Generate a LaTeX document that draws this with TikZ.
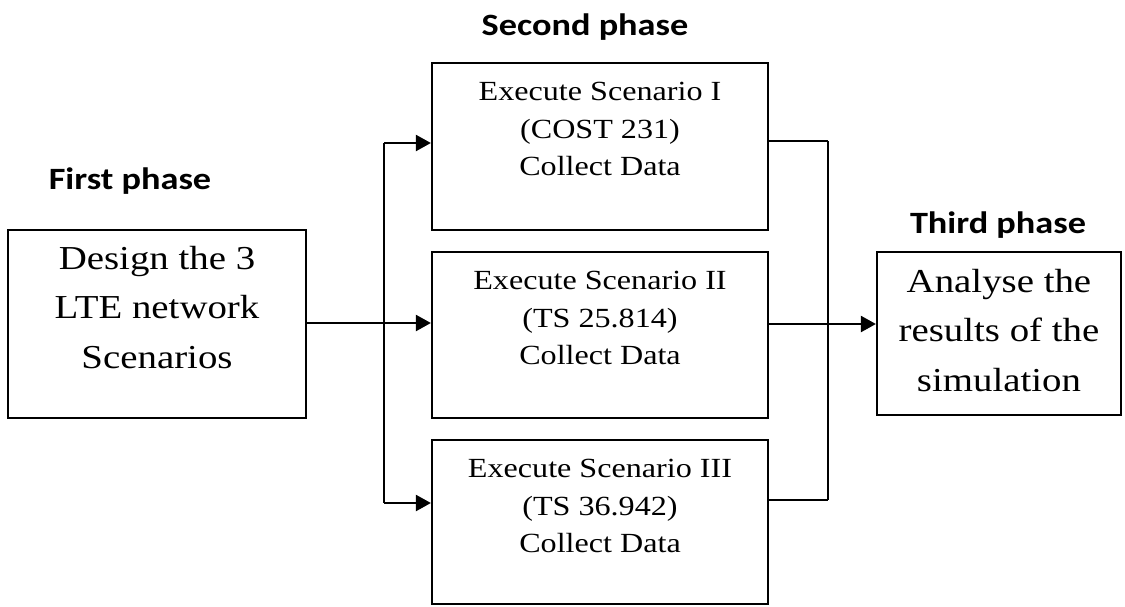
\documentclass[tikz,border=0pt]{standalone}
\usepackage{fontspec}
\usetikzlibrary{arrows.meta}
\newfontfamily\boxfont[FakeStretch=1.16]{Liberation Serif}
\newfontfamily\phasefont[FakeStretch=1.17]{Carlito}
\tikzset{
  stage/.style={draw, line width=2.2pt, inner sep=0pt},
  bigtext/.style={anchor=north, align=center, inner sep=0pt,
    font=\boxfont\fontsize{33.5}{49.5}\selectfont},
  smalltext/.style={anchor=north, align=center, inner sep=0pt,
    font=\boxfont\fontsize{27.7}{37.5}\selectfont},
  phase/.style={anchor=base, inner sep=0pt,
    font=\phasefont\bfseries\fontsize{31}{36}\selectfont},
  link/.style={line width=2.2pt},
  thinlink/.style={line width=1.6pt},
  flow/.style={line width=2.2pt, -{Triangle[length=15pt,width=16pt]}}
}
\begin{document}
\begin{tikzpicture}[x=1pt,y=-1pt]
\useasboundingbox (0,0) rectangle (1125,606);

% phase headings
\node[phase] (p1) at (130,189) {First phase};
\node[phase] (p2) at (585,35) {Second phase};
\node[phase] (p3) at (998,233) {Third phase};

% first phase
\node[stage, minimum width=298pt, minimum height=188pt] (design) at (157,324) {};
\node[bigtext] (designtxt) at (157,246) {Design the 3\\LTE network\\Scenarios};

% second phase
\node[stage, minimum width=336pt, minimum height=167pt] (s1) at (600,146.5) {};
\node[stage, minimum width=336pt, minimum height=166pt] (s2) at (600,335) {};
\node[stage, minimum width=336pt, minimum height=164pt] (s3) at (600,522) {};
\node[smalltext] (s1txt) at (600,82) {Execute Scenario I\\(COST 231)\\Collect Data};
\node[smalltext] (s2txt) at (600,271) {Execute Scenario II\\(TS 25.814)\\Collect Data};
\node[smalltext] (s3txt) at (600,459) {Execute Scenario III\\(TS 36.942)\\Collect Data};

% third phase
\node[stage, minimum width=244pt, minimum height=163pt] (analyse) at (999,333.5) {};
\node[bigtext] (analysetxt) at (999,269) {Analyse the\\results of the\\simulation};

% fan-out to the scenarios
\coordinate (ftop) at (384,143);
\coordinate (fmid) at (384,323);
\coordinate (fbot) at (384,503);
\draw[flow] (design.east |- fmid) -- (s2.west |- fmid);
\draw[link] (ftop) -- (fbot);
\draw[flow] (ftop) -- (s1.west |- ftop);
\draw[flow] (fbot) -- (s3.west |- fbot);

% fan-in to the analysis
\coordinate (jtop) at (828,141);
\coordinate (jmid) at (828,324);
\coordinate (jbot) at (828,500);
\draw[link] (s1.east |- jtop) -- (jtop);
\draw[thinlink] (jtop) -- (jbot);
\draw[link] (s3.east |- jbot) -- (jbot);
\draw[link] (s2.east |- jmid) -- (jmid);
\draw[flow] (jmid) -- (analyse.west |- jmid);
\end{tikzpicture}
\end{document}
